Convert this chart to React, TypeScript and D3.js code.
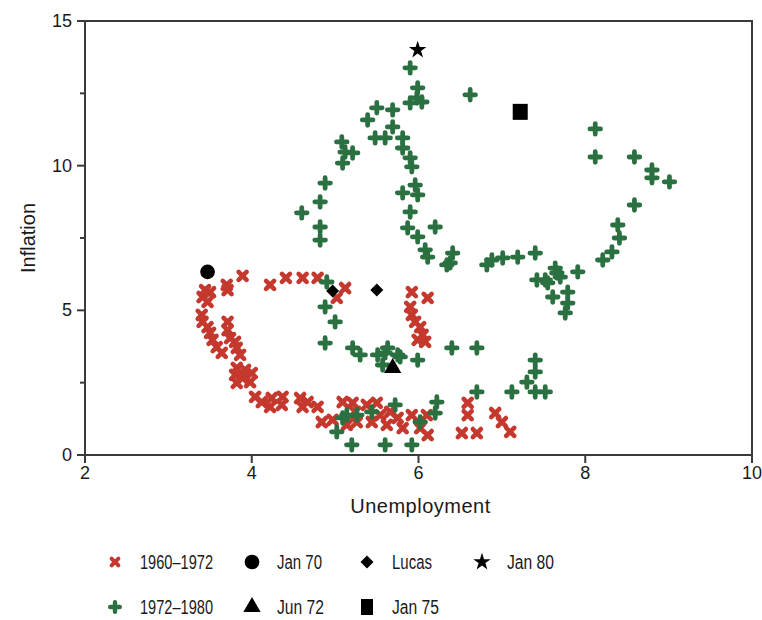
import React from "react";
import * as d3 from "d3";

// ---- data (unemployment %, inflation %) ----
const xTicks = [2, 4, 6, 8, 10];
const yTicks = [0, 5, 10, 15];
const yMinorTicks = [2.5, 7.5, 12.5];

const series1960: [number, number][] = [
  [3.70, 5.88], [3.89, 6.19], [4.22, 5.88], [4.41, 6.12], [4.61, 6.12], [4.79, 6.12], [5.12, 5.77],
  [3.44, 5.70], [3.50, 5.63], [3.41, 5.46], [3.47, 5.29], [3.71, 5.70], [5.02, 5.43],
  [3.40, 4.84], [3.41, 4.60], [3.47, 4.42], [3.50, 4.22], [3.53, 3.98], [3.58, 3.73], [3.64, 3.53],
  [3.71, 4.60], [3.71, 4.32], [3.74, 4.04], [3.80, 3.91], [3.82, 3.70], [3.86, 3.46],
  [3.82, 3.01], [3.92, 2.94], [3.80, 2.77], [3.89, 2.66], [4.00, 2.83], [3.82, 2.49], [3.98, 2.52],
  [4.04, 2.01], [4.12, 1.83], [4.24, 1.97], [4.22, 1.66], [4.37, 2.01], [4.36, 1.73],
  [4.58, 1.97], [4.61, 1.66], [4.67, 1.83], [4.79, 1.66], [4.84, 1.14], [4.97, 1.21],
  [5.09, 1.83], [5.21, 1.80], [5.14, 1.04], [5.26, 1.14], [5.24, 1.49], [5.38, 1.73], [5.50, 1.80],
  [5.54, 1.38], [5.66, 1.49], [5.75, 1.28], [5.44, 1.14], [5.62, 1.04], [5.81, 0.93], [5.92, 1.38],
  [6.02, 0.93], [6.11, 0.69], [6.10, 1.38],
  [5.92, 5.63], [6.11, 5.43], [5.90, 5.12], [5.92, 4.84], [5.96, 4.60], [6.02, 4.42], [6.05, 4.15],
  [5.99, 3.98], [6.08, 3.91],
  [6.59, 1.80], [6.59, 1.38], [6.52, 0.76], [6.70, 0.76], [6.92, 1.45], [7.00, 1.14], [7.10, 0.80],
];

const series1972: [number, number][] = [
  [5.90, 13.38], [5.99, 12.69], [5.98, 12.34], [5.90, 12.17], [6.04, 12.20], [6.62, 12.45],
  [5.50, 12.00], [5.69, 11.93], [5.39, 11.58], [5.69, 11.34], [5.48, 10.96], [5.60, 10.96],
  [5.81, 10.96], [5.81, 10.61], [5.90, 10.27], [5.92, 9.96],
  [5.08, 10.82], [5.12, 10.47], [5.21, 10.44], [5.09, 10.09],
  [4.88, 9.40], [4.82, 8.75], [4.60, 8.37], [4.82, 7.88], [4.82, 7.43],
  [5.96, 9.33], [5.81, 9.06], [5.99, 8.99], [5.90, 8.40], [5.87, 7.85], [5.99, 7.54], [6.20, 7.88],
  [6.08, 7.09], [6.41, 6.98], [6.38, 6.64], [6.34, 6.57], [6.82, 6.57], [6.88, 6.74], [7.01, 6.81],
  [7.19, 6.84], [7.40, 6.98], [7.42, 6.05], [7.55, 5.95], [7.66, 6.29], [7.70, 6.15], [7.91, 6.33],
  [7.61, 5.46], [7.79, 5.63], [7.79, 5.25], [7.76, 4.91], [7.52, 6.05], [7.64, 6.46],
  [8.12, 11.27], [8.12, 10.30], [8.59, 10.30], [8.80, 9.85], [8.80, 9.58], [9.01, 9.44],
  [8.59, 8.64], [8.39, 7.95], [8.41, 7.50], [8.32, 7.02], [8.21, 6.74], [6.11, 6.84],
  [6.40, 3.70], [6.70, 3.70], [5.60, 3.53], [5.78, 3.39], [5.99, 3.28], [5.21, 3.70], [5.30, 3.46],
  [5.51, 3.46], [5.63, 3.70], [5.75, 3.46], [5.57, 3.11],
  [7.40, 3.28], [7.40, 2.87], [7.30, 2.52], [7.40, 2.18], [7.52, 2.18], [6.70, 2.18], [7.12, 2.18],
  [6.22, 1.83], [6.20, 1.45], [6.02, 1.14], [5.60, 0.35], [5.92, 0.35], [5.26, 1.38], [5.09, 1.28],
  [5.02, 0.80], [5.20, 0.35], [5.14, 1.38], [5.44, 1.49], [5.72, 1.73],
  [4.90, 5.98], [4.88, 5.12], [5.00, 4.60], [4.88, 3.87],
];

const jan70: [number, number][] = [[3.47, 6.33]];
const lucas: [number, number][] = [[4.97, 5.67], [5.50, 5.70]];
const jan80: [number, number][] = [[5.99, 14.0]];
const jun72: [number, number][] = [[5.69, 3.01]];
const jan75: [number, number][] = [[7.22, 11.86]];

const legendLabels = ["1960\u20131972", "Jan 70", "Lucas", "Jan 80", "1972\u20131980", "Jun 72", "Jan 75"];

// ---- layout ----
const W = 762, H = 620;
const RED = "#c4382e";
const GREEN = "#2a7040";
const AX = "#3a3a3a";
const FONT = "'Liberation Sans', Arial, sans-serif";

const x = d3.scaleLinear().domain([2, 10]).range([85, 752]);
const y = d3.scaleLinear().domain([0, 15]).range([455, 21]);

const crossPath = (s: number) => `M${-s},${-s}L${s},${s}M${-s},${s}L${s},${-s}`;
const plusPath = (s: number) => `M${-s},0L${s},0M0,${-s}L0,${s}`;
const diamondPath = (s: number) => `M0,${-s}L${s},0L0,${s}L${-s},0Z`;

const XMark = ({ cx, cy }: { cx: number; cy: number }) => (
  <path d={crossPath(4)} transform={`translate(${cx},${cy})`} stroke={RED} strokeWidth={4.6} strokeLinecap="round" fill="none" />
);
const PlusMark = ({ cx, cy }: { cx: number; cy: number }) => (
  <path d={plusPath(5.3)} transform={`translate(${cx},${cy})`} stroke={GREEN} strokeWidth={4.8} strokeLinecap="round" fill="none" />
);

const sym = (type: d3.SymbolType, size: number) => d3.symbol().type(type).size(size)() as string;

const Special = ({ cx, cy, kind }: { cx: number; cy: number; kind: string }) => {
  const t = `translate(${cx},${cy})`;
  if (kind === "circle") return <path d={sym(d3.symbolCircle, 170)} transform={t} fill="#000" />;
  if (kind === "diamond") return <path d={diamondPath(6.5)} transform={t} fill="#000" />;
  if (kind === "star") return <path d={sym(d3.symbolStar, 95)} transform={t} fill="#000" />;
  if (kind === "triangle") return <path d={sym(d3.symbolTriangle, 130)} transform={t} fill="#000" />;
  return <rect x={cx - 7.5} y={cy - 8} width={15} height={16} fill="#000" />;
};

const legendItems = [
  { kind: "x", label: legendLabels[0], mx: 115, my: 562, tw: 73 },
  { kind: "circle", label: legendLabels[1], mx: 252, my: 562, tw: 45 },
  { kind: "diamond", label: legendLabels[2], mx: 367, my: 562, tw: 40 },
  { kind: "star", label: legendLabels[3], mx: 482, my: 562, tw: 47 },
  { kind: "plus", label: legendLabels[4], mx: 115, my: 607, tw: 73 },
  { kind: "triangle", label: legendLabels[5], mx: 252, my: 607, tw: 47 },
  { kind: "square", label: legendLabels[6], mx: 367, my: 607, tw: 47 },
];

export default function App() {
  const [x0, x1] = x.range();
  const [y0, y1] = y.range();
  return (
    <div style={{ position: "absolute", left: 0, top: 0 }}>
      <svg width={W} height={H} style={{ display: "block", background: "#fff" }}>
        {/* frame */}
        <rect x={x0} y={y1} width={x1 - x0} height={y0 - y1} fill="none" stroke={AX} strokeWidth={2} />
        {/* x ticks */}
        {xTicks.map((t) => (
          <g key={"xt" + t}>
            <line x1={x(t)} x2={x(t)} y1={y0} y2={y0 + 8} stroke={AX} strokeWidth={2} />
            <text x={x(t)} y={y0 + 24} textAnchor="middle" fontFamily={FONT} fontSize={18} fill="#1a1a1a">{t}</text>
          </g>
        ))}
        {/* y ticks */}
        {yTicks.map((t) => (
          <g key={"yt" + t}>
            <line x1={x0 - 8} x2={x0} y1={y(t)} y2={y(t)} stroke={AX} strokeWidth={2} />
            <text x={x0 - 13} y={y(t) + 6} textAnchor="end" fontFamily={FONT} fontSize={18} fill="#1a1a1a">{t}</text>
          </g>
        ))}
        {yMinorTicks.map((t) => (
          <line key={"ym" + t} x1={x0 - 5} x2={x0} y1={y(t)} y2={y(t)} stroke={AX} strokeWidth={2} />
        ))}
        {/* axis titles */}
        <text x={(x0 + x1) / 2 + 2} y={513} textAnchor="middle" fontFamily={FONT} fontSize={20} letterSpacing={0.5} fill="#1a1a1a">Unemployment</text>
        <text transform={`translate(35,${(y0 + y1) / 2}) rotate(-90)`} textAnchor="middle" fontFamily={FONT} fontSize={20} fill="#1a1a1a">Inflation</text>
        {/* data */}
        {series1960.map(([a, b], i) => <XMark key={"r" + i} cx={x(a)} cy={y(b)} />)}
        {series1972.map(([a, b], i) => <PlusMark key={"g" + i} cx={x(a)} cy={y(b)} />)}
        {jan70.map(([a, b], i) => <Special key={"c" + i} cx={x(a)} cy={y(b)} kind="circle" />)}
        {lucas.map(([a, b], i) => <Special key={"d" + i} cx={x(a)} cy={y(b)} kind="diamond" />)}
        {jan80.map(([a, b], i) => <Special key={"s" + i} cx={x(a)} cy={y(b)} kind="star" />)}
        {jun72.map(([a, b], i) => <Special key={"t" + i} cx={x(a)} cy={y(b)} kind="triangle" />)}
        {jan75.map(([a, b], i) => <Special key={"q" + i} cx={x(a)} cy={y(b)} kind="square" />)}
        {/* legend */}
        {legendItems.map((it, i) => (
          <g key={"lg" + i}>
            {it.kind === "x" ? (
              <path d={crossPath(3.4)} transform={`translate(${it.mx},${it.my})`} stroke={RED} strokeWidth={4} strokeLinecap="round" fill="none" />
            ) : it.kind === "plus" ? (
              <path d={plusPath(4.8)} transform={`translate(${it.mx},${it.my})`} stroke={GREEN} strokeWidth={4.4} strokeLinecap="round" fill="none" />
            ) : it.kind === "square" ? (
              <rect x={it.mx - 6} y={it.my - 8} width={12} height={16} fill="#000" />
            ) : (
              <Special cx={it.mx} cy={it.my} kind={it.kind} />
            )}
            <text x={it.mx + 25} y={it.my + 7} fontFamily={FONT} fontSize={20} textLength={it.tw} lengthAdjust="spacingAndGlyphs" fill="#1a1a1a">{it.label}</text>
          </g>
        ))}
      </svg>
    </div>
  );
}
